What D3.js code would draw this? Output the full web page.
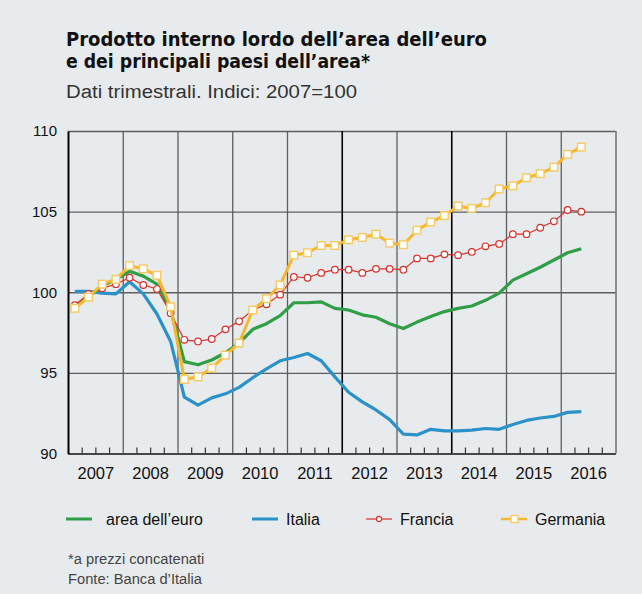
<!DOCTYPE html>
<html><head><meta charset="utf-8">
<script src="https://cdn.jsdelivr.net/npm/d3@7"></script>
<style>
html,body{margin:0;padding:0;background:#e8ebee;}
svg{display:block;}
text{font-family:"Liberation Sans",Arial,sans-serif;}
</style></head>
<body><svg id="c" width="642" height="594"></svg>
<script>
const years = [2007,2008,2009,2010,2011,2012,2013,2014,2015,2016];
const yTicks = [90,95,100,105,110];
const seriesNames = ["area dell’euro","Italia","Francia","Germania"];
const euro = [99.1,99.7,100.4,100.8,101.3,101.0,100.5,98.9,95.7,95.5,95.8,96.25,96.85,97.7,98.05,98.55,99.35,99.35,99.4,99.0,98.9,98.6,98.45,98.05,97.75,98.15,98.5,98.8,99.0,99.15,99.5,99.95,100.75,101.15,101.55,102.0,102.45,102.7];
const italia = [100.05,100.05,99.95,99.9,100.65,99.9,98.65,96.95,93.5,93.0,93.45,93.7,94.1,94.7,95.25,95.75,95.95,96.2,95.75,94.75,93.8,93.2,92.7,92.1,91.2,91.15,91.5,91.4,91.4,91.45,91.55,91.5,91.8,92.05,92.2,92.3,92.55,92.6];
const francia = [99.2,99.9,100.25,100.5,100.9,100.45,100.2,98.7,97.05,96.95,97.1,97.7,98.2,98.9,99.25,99.85,100.95,100.9,101.2,101.4,101.4,101.2,101.45,101.45,101.4,102.1,102.1,102.35,102.3,102.5,102.85,103.0,103.6,103.6,104.0,104.4,105.1,105.0];
const germania = [99.0,99.7,100.5,100.8,101.65,101.45,101.05,99.1,94.6,94.75,95.3,96.1,96.85,98.9,99.6,100.45,102.3,102.45,102.9,102.9,103.25,103.4,103.6,103.05,102.95,103.85,104.35,104.75,105.35,105.2,105.55,106.4,106.6,107.1,107.35,107.75,108.55,109.0];
const title = ["Prodotto interno lordo dell’area dell’euro","e dei principali paesi dell’area*"];
const subtitle = "Dati trimestrali. Indici: 2007=100";
const notes = ["*a prezzi concatenati","Fonte: Banca d’Italia"];

const svg = d3.select("#c");
const L=68, R=615.5, T=131, B=453.5;
const x = d3.scaleLinear().domain([2007,2017]).range([L,R]);
const y = d3.scaleLinear().domain([90,110]).range([B,T]);
const qx = i => x(2007 + (i+0.5)/4);

// titles
svg.append("text").attr("x",66).attr("y",45.5).attr("textLength",421).attr("lengthAdjust","spacingAndGlyphs")
  .style("font-family","'Liberation Sans Narrow','DejaVu Sans Condensed',sans-serif").style("font-weight","bold").style("font-size","20px").attr("fill","#111").text(title[0]);
svg.append("text").attr("x",66).attr("y",68).attr("textLength",304).attr("lengthAdjust","spacingAndGlyphs")
  .style("font-family","'Liberation Sans Narrow','DejaVu Sans Condensed',sans-serif").style("font-weight","bold").style("font-size","20px").attr("fill","#111").text(title[1]);
svg.append("text").attr("x",66).attr("y",98).attr("textLength",291).attr("lengthAdjust","spacingAndGlyphs")
  .style("font-size","18px").attr("fill","#333").text(subtitle);

// horizontal grid
const gy = svg.append("g").attr("transform",`translate(${L},0)`)
  .call(d3.axisLeft(y).tickValues(yTicks).tickSize(-(R-L)).tickFormat(""));
gy.select(".domain").remove();
gy.selectAll(".tick line").attr("stroke","#5e5e5e").attr("stroke-width",1.3);

// vertical grid
const gx = svg.append("g").attr("transform",`translate(0,${B})`)
  .call(d3.axisBottom(x).tickValues(d3.range(2008,2018)).tickSize(-(B-T)).tickFormat(""));
gx.select(".domain").remove();
gx.selectAll(".tick line").attr("stroke",d=>(d===2012||d===2014)?"#000":"#5e5e5e").attr("stroke-width",d=>(d===2012||d===2014)?1.6:1.3);

// quarter ticks
const qt = [];
years.forEach(yr=>{[0.25,0.5,0.75].forEach(f=>qt.push(yr+f));});
const gq = svg.append("g").attr("transform",`translate(0,${B})`)
  .call(d3.axisBottom(x).tickValues(qt).tickSize(-6).tickFormat(""));
gq.select(".domain").remove();
gq.selectAll(".tick line").attr("stroke","#333").attr("stroke-width",1.2);

// bottom axis and labels
const gb = svg.append("g").attr("transform",`translate(0,${B})`)
  .call(d3.axisBottom(x).tickValues(years.map(v=>v+0.5)).tickSize(0).tickPadding(14).tickFormat(d=>String(Math.floor(d))));
gb.select(".domain").attr("stroke","#333").attr("stroke-width",1.5);
gb.selectAll("text").style("font-size","16.5px").attr("fill","#111").attr("font-family",null);

// left axis
const gl = svg.append("g").attr("transform",`translate(${L},0)`)
  .call(d3.axisLeft(y).tickValues(yTicks).tickSize(0).tickPadding(11).tickFormat(d3.format("d")));
gl.select(".domain").attr("stroke","#000").attr("stroke-width",2);
gl.selectAll("text").style("font-size","15px").attr("fill","#111").attr("font-family",null);

const line = d3.line().x((d,i)=>qx(i)).y(d=>y(d));
const colors = {euro:"#2f9e46", italia:"#2a91c9", francia:"#d8312b", germania:"#f5b72c"};

svg.append("path").datum(italia).attr("d",line).attr("fill","none").attr("stroke",colors.italia).attr("stroke-width",3.2).attr("stroke-linejoin","round");
svg.append("path").datum(euro).attr("d",line).attr("fill","none").attr("stroke",colors.euro).attr("stroke-width",3.2).attr("stroke-linejoin","round");
svg.append("path").datum(francia).attr("d",line).attr("fill","none").attr("stroke",colors.francia).attr("stroke-width",1.2);
svg.append("g").selectAll("circle").data(francia).join("circle")
  .attr("cx",(d,i)=>qx(i)).attr("cy",d=>y(d)).attr("r",3.3).attr("fill","#fff").attr("stroke",colors.francia).attr("stroke-width",1.2);
svg.append("path").datum(germania).attr("d",line).attr("fill","none").attr("stroke",colors.germania).attr("stroke-width",3).attr("stroke-linejoin","round");
svg.append("g").selectAll("rect").data(germania).join("rect")
  .attr("x",(d,i)=>qx(i)-3.8).attr("y",d=>y(d)-3.8).attr("width",7.6).attr("height",7.6)
  .attr("fill","#fff").attr("stroke","#f7c95e").attr("stroke-width",1.4);

// legend
const legX = [66,252,366,501];
const legC = [colors.euro,colors.italia,colors.francia,colors.germania];
const legW = [3,3,1.2,2.5];
const lg = svg.append("g");
seriesNames.forEach((n,k)=>{
  const x0=legX[k];
  lg.append("line").attr("x1",x0).attr("x2",x0+26).attr("y1",519).attr("y2",519).attr("stroke",legC[k]).attr("stroke-width",legW[k]);
  if(k===2) lg.append("circle").attr("cx",x0+13).attr("cy",519).attr("r",2.6).attr("fill","#fff").attr("stroke",legC[k]).attr("stroke-width",1.1);
  if(k===3) lg.append("rect").attr("x",x0+10).attr("y",515.5).attr("width",7).attr("height",7).attr("fill","#fff").attr("stroke","#f7c95e").attr("stroke-width",1.3);
  lg.append("text").attr("x",x0+(k===0?40:34)).attr("y",524.5).style("font-size","16px").attr("fill","#111").text(n);
});

// notes
svg.append("text").attr("x",68).attr("y",564).style("font-size","14.7px").attr("fill","#444").text(notes[0]);
svg.append("text").attr("x",68).attr("y",584).style("font-size","14.7px").attr("fill","#444").text(notes[1]);
</script></body></html>
